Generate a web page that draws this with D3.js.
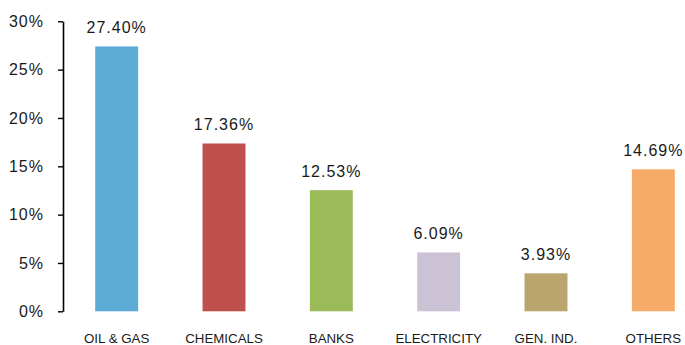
<!DOCTYPE html>
<html>
<head>
<meta charset="utf-8">
<script src="https://cdn.jsdelivr.net/npm/d3@7/dist/d3.min.js"></script>
<style>
  html, body { margin: 0; padding: 0; background: #fff; }
  svg { display: block; }
  text { font-family: "Liberation Sans", Arial, sans-serif; fill: #1a1a1a; }
</style>
</head>
<body>
<svg id="chart" width="685" height="345"></svg>
<script>
// Sector weights (percent)
const sectors = ["OIL & GAS", "CHEMICALS", "BANKS", "ELECTRICITY", "GEN. IND.", "OTHERS"];
const weights = [27.40, 17.36, 12.53, 6.09, 3.93, 14.69];
const colors = ["#5DACD6", "#C0504D", "#9BBB59", "#CBC2D5", "#BBA56E", "#F6AB68"];
const yTicks = [0, 5, 10, 15, 20, 25, 30];

const svg = d3.select("#chart");

const x = d3.scaleBand()
  .domain(sectors)
  .range([63, 707])
  .paddingInner(0.6)
  .paddingOuter(0.3);

const y = d3.scaleLinear()
  .domain([0, 30])
  .range([311.3, 21.3]);

// Y axis
const yAxis = d3.axisLeft(y)
  .tickValues(yTicks)
  .tickFormat(d => d + "%")
  .tickSize(5)
  .tickSizeOuter(0)
  .tickPadding(14);

const gy = svg.append("g")
  .attr("transform", "translate(63,0)")
  .call(yAxis);
gy.select(".domain").attr("stroke", "#000").attr("stroke-width", 1.6);
gy.selectAll(".tick line").attr("stroke", "#000").attr("stroke-width", 1.4);
gy.selectAll(".tick text")
  .attr("font-size", 16)
  .attr("letter-spacing", 1)
  .attr("fill", "#1a1a1a")
  .style("font-family", "'Liberation Sans', Arial, sans-serif");

// Bars
svg.append("g").selectAll("rect")
  .data(sectors)
  .join("rect")
  .attr("x", d => x(d))
  .attr("width", x.bandwidth())
  .attr("y", (d, i) => y(weights[i]))
  .attr("height", (d, i) => y(0) - y(weights[i]))
  .attr("fill", (d, i) => colors[i]);

// Value labels above bars
svg.append("g").selectAll("text")
  .data(sectors)
  .join("text")
  .attr("x", d => x(d) + x.bandwidth() / 2)
  .attr("y", (d, i) => y(weights[i]) - 13)
  .attr("text-anchor", "middle")
  .attr("font-size", 16)
  .attr("letter-spacing", 1)
  .text((d, i) => weights[i].toFixed(2) + "%");

// Category labels
svg.append("g").selectAll("text")
  .data(sectors)
  .join("text")
  .attr("x", d => x(d) + x.bandwidth() / 2)
  .attr("y", 343)
  .attr("text-anchor", "middle")
  .attr("font-size", 13.3)
  .text(d => d);
</script>
</body>
</html>
